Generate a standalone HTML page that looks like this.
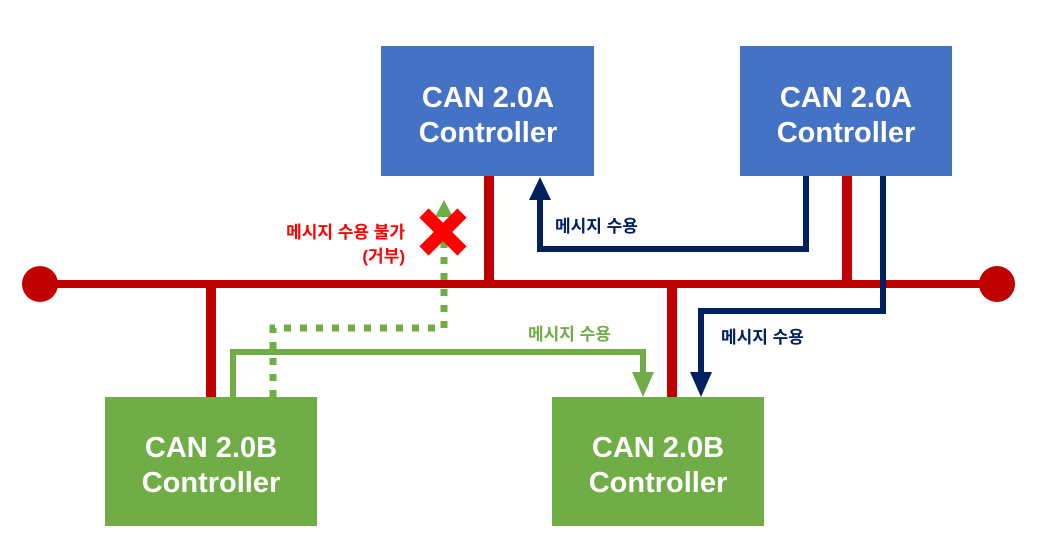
<!DOCTYPE html>
<html><head><meta charset="utf-8"><style>
html,body{margin:0;padding:0;background:#fff;width:1054px;height:547px;overflow:hidden}
svg text{font-family:"Liberation Sans","Noto Sans CJK KR",sans-serif;font-weight:bold}
</style></head><body>
<svg width="1054" height="547" viewBox="0 0 1054 547" xmlns="http://www.w3.org/2000/svg">
<!-- bus -->
<line x1="40" y1="284" x2="997" y2="284" stroke="#c00000" stroke-width="8"/>
<circle cx="40" cy="284" r="18" fill="#c00000"/>
<circle cx="997" cy="284" r="18" fill="#c00000"/>
<line x1="489" y1="176" x2="489" y2="284" stroke="#c00000" stroke-width="10"/>
<line x1="847" y1="176" x2="847" y2="284" stroke="#c00000" stroke-width="10"/>
<line x1="211" y1="284" x2="211" y2="397" stroke="#c00000" stroke-width="10"/>
<line x1="672" y1="284" x2="672" y2="397" stroke="#c00000" stroke-width="10"/>
<!-- navy 1 -->
<polyline points="806,176 806,249 540,249 540,198" fill="none" stroke="#002060" stroke-width="6"/>
<polygon points="529,200 551,200 540,177" fill="#002060"/>
<!-- navy 2 -->
<polyline points="883,176 883,311 701,311 701,374" fill="none" stroke="#002060" stroke-width="6"/>
<polygon points="690,372 712,372 701,397" fill="#002060"/>
<!-- green solid -->
<polyline points="233,397 233,352 643,352 643,374" fill="none" stroke="#70ad47" stroke-width="6"/>
<polygon points="632,372 654,372 643,397" fill="#70ad47"/>
<!-- green dotted -->
<polyline points="273,397 273,328 444,328 444,212" fill="none" stroke="#70ad47" stroke-width="7" stroke-dasharray="7,9"/>
<polygon points="435,217 453,217 444,200" fill="#70ad47"/>
<!-- X -->
<g stroke="#ff0000" stroke-width="13">
<line x1="424" y1="213" x2="462" y2="251"/>
<line x1="462" y1="213" x2="424" y2="251"/>
</g>
<!-- boxes -->
<rect x="381" y="46" width="213" height="130" fill="#4472c4"/>
<rect x="740" y="46" width="212" height="130" fill="#4472c4"/>
<rect x="105" y="397" width="212" height="129" fill="#70ad47"/>
<rect x="552" y="397" width="212" height="129" fill="#70ad47"/>
<g fill="#fff" font-size="29" text-anchor="middle">
<text x="488" y="107">CAN 2.0A</text><text x="488" y="142">Controller</text>
<text x="846" y="107">CAN 2.0A</text><text x="846" y="142">Controller</text>
<text x="211" y="457">CAN 2.0B</text><text x="211" y="492">Controller</text>
<text x="658" y="457">CAN 2.0B</text><text x="658" y="492">Controller</text>
</g>
<g font-size="17">
<text x="405" y="238" text-anchor="end" fill="#ff0000">메시지 수용 불가</text>
<text x="405" y="262" text-anchor="end" fill="#ff0000">(거부)</text>
<text x="555" y="232" fill="#002060">메시지 수용</text>
<text x="528" y="340" fill="#70ad47">메시지 수용</text>
<text x="721" y="343" fill="#002060">메시지 수용</text>
</g>
</svg>
</body></html>
